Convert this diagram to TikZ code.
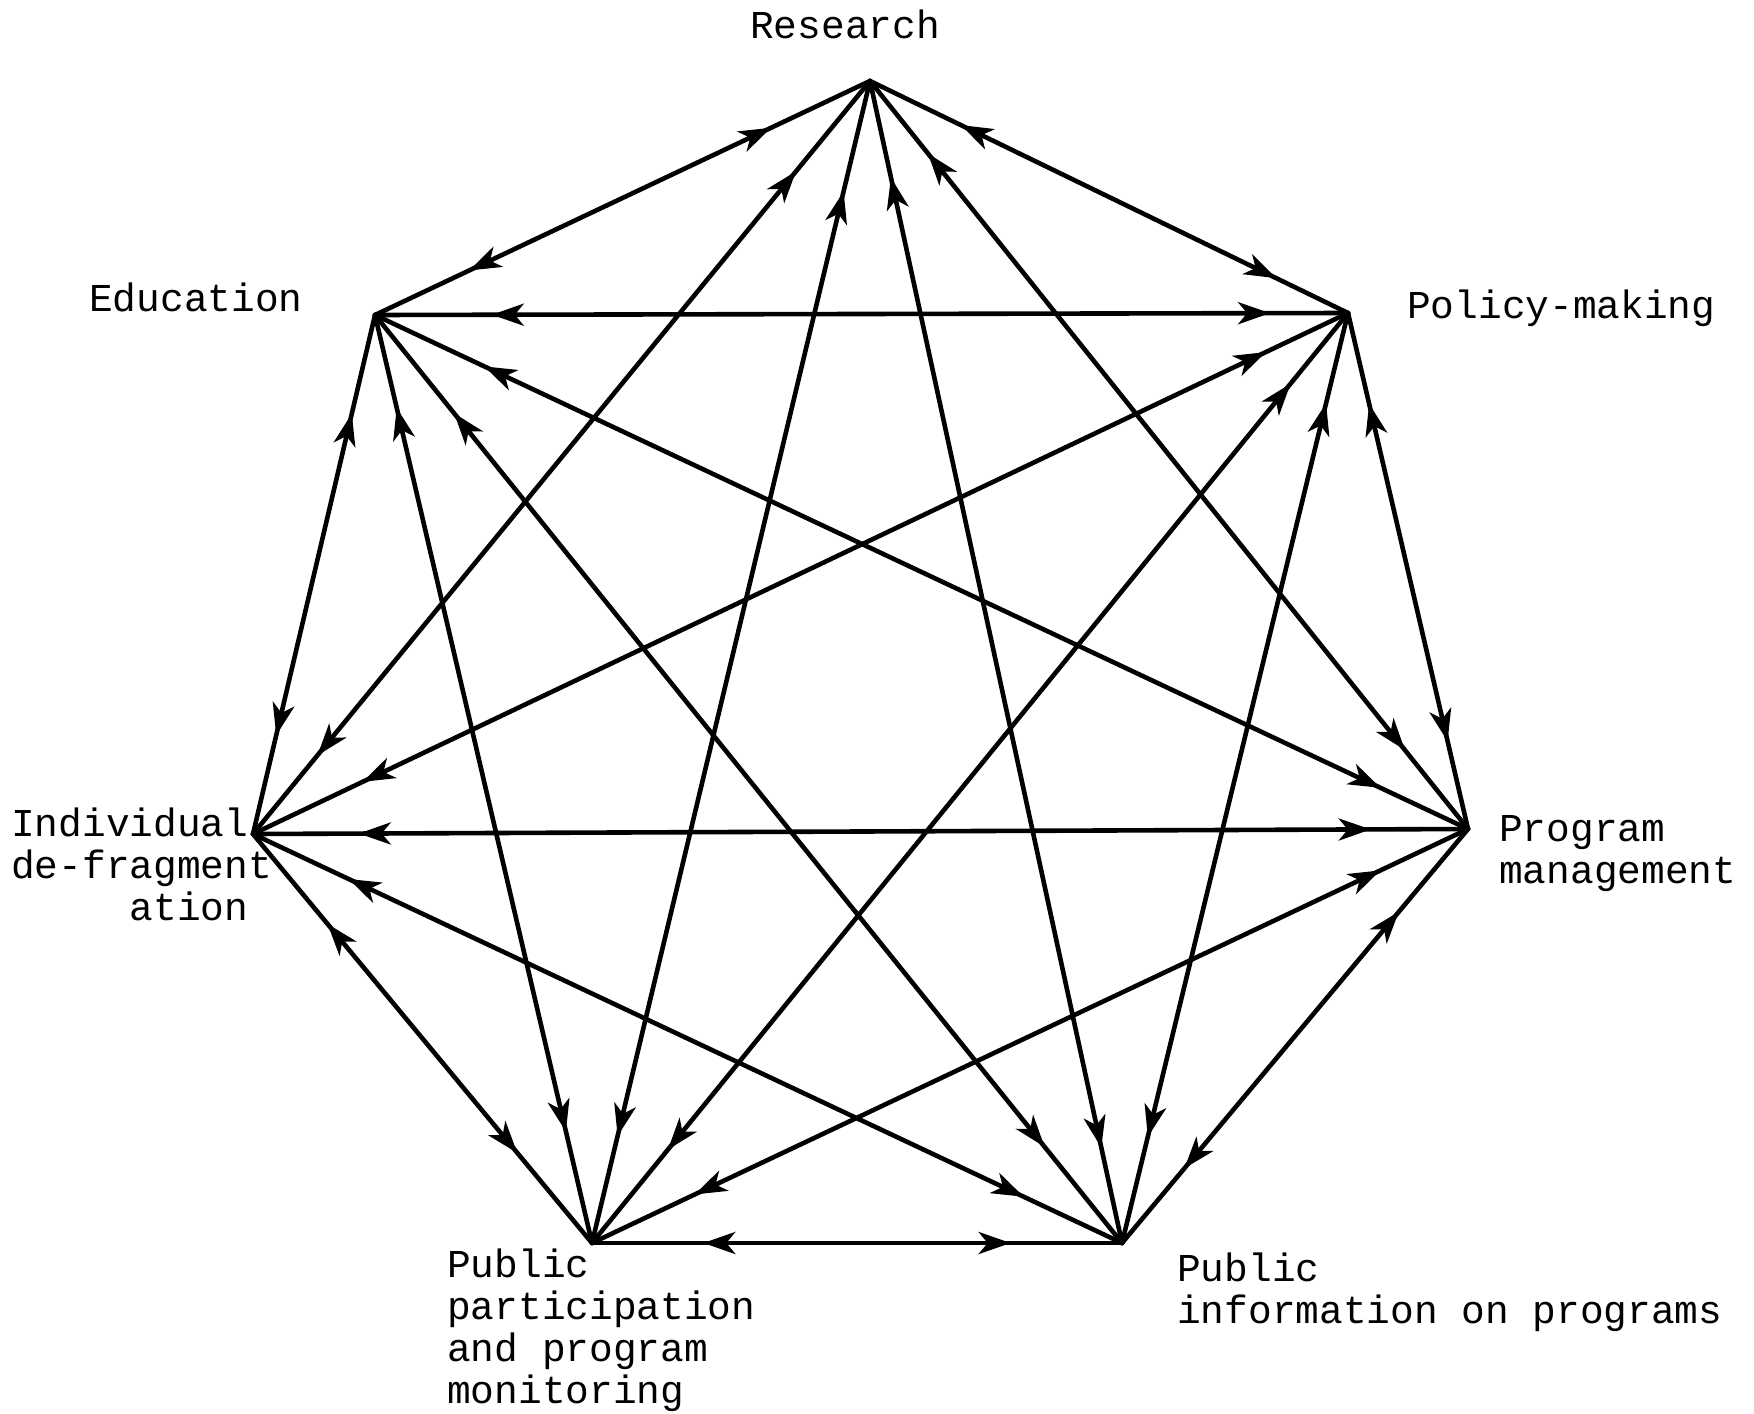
\documentclass[tikz,border=0pt]{standalone}
\usepackage{fontspec}
\newfontfamily\lblfont{Liberation Mono}
\usetikzlibrary{arrows.meta,decorations.markings}
\tikzset{
  myhead/.tip={Stealth[length=32bp,width=22bp,inset=9bp]},
  edge/.style={line width=4.6bp,line cap=round},
  dbl/.style 2 args={edge,postaction={decorate,decoration={markings,
     mark=at position #1 with {\arrowreversed{myhead}},
     mark=at position #2 with {\arrow{myhead}}}}},
  lbl/.style={inner sep=0pt,anchor=base west,align=left,
     font=\lblfont\fontsize{39.5bp}{42bp}\selectfont}
}
\begin{document}
\begin{tikzpicture}[x=1bp,y=-1bp]
\useasboundingbox (0,0) rectangle (1754,1414);
\coordinate (R)  at (870,81);
\coordinate (P)  at (1348,313);
\coordinate (M)  at (1468,829);
\coordinate (PI) at (1122,1243);
\coordinate (PP) at (592,1243);
\coordinate (D)  at (253,834);
\coordinate (E)  at (375,315);

% multi-line labels: base anchor is the baseline of the last line
\node[lbl] (lR) at (750,39) {Research};
\node[lbl] (lP) at (1407,319) {Policy-making};
\node[lbl] (lE) at (89,312) {Education};
\node[lbl] (lD) at (11,920) {Individual\\de-fragment\\\hphantom{xxxxx}ation};
\node[lbl] (lM) at (1499,883) {Program\\management};
\node[lbl] (lPP) at (447,1403) {Public\\participation\\and program\\monitoring};
\node[lbl] (lPI) at (1177,1323) {Public\\information on programs};

\draw[dbl={0.20}{0.81}] (R) -- (E);
\draw[dbl={0.19}{0.85}] (R) -- (P);
\draw[dbl={0.12}{0.92}] (E) -- (P);
\draw[dbl={0.10}{0.92}] (E) -- (M);
\draw[dbl={0.19}{0.81}] (E) -- (D);
\draw[dbl={0.10}{0.88}] (E) -- (PP);
\draw[dbl={0.106}{0.897}] (E) -- (PI);
\draw[dbl={0.12}{0.896}] (R) -- (D);
\draw[dbl={0.095}{0.908}] (R) -- (PP);
\draw[dbl={0.083}{0.918}] (R) -- (PI);
\draw[dbl={0.097}{0.895}] (R) -- (M);
\draw[dbl={0.075}{0.90}] (P) -- (D);
\draw[dbl={0.076}{0.90}] (P) -- (PP);
\draw[dbl={0.097}{0.886}] (P) -- (PI);
\draw[dbl={0.176}{0.83}] (P) -- (M);
\draw[dbl={0.087}{0.92}] (D) -- (M);
\draw[dbl={0.11}{0.887}] (D) -- (PI);
\draw[dbl={0.22}{0.78}] (D) -- (PP);
\draw[dbl={0.10}{0.883}] (M) -- (PP);
\draw[dbl={0.20}{0.82}] (M) -- (PI);
\draw[dbl={0.21}{0.79}] (PP) -- (PI);
\end{tikzpicture}
\end{document}
